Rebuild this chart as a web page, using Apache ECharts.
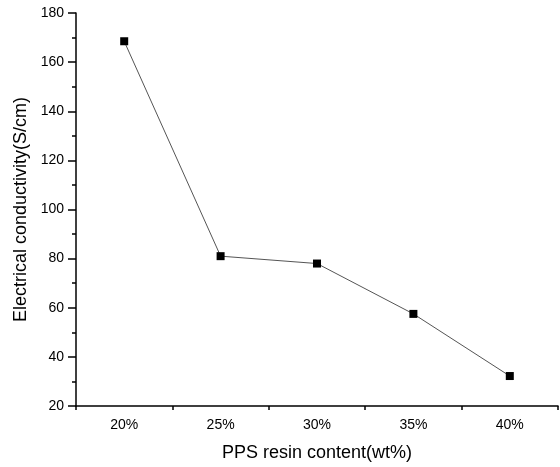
<!DOCTYPE html>
<html>
<head>
<meta charset="utf-8">
<script src="https://cdn.jsdelivr.net/npm/echarts@6/dist/echarts.min.js"></script>
<style>html,body{margin:0;padding:0;background:#fff}#c{width:560px;height:467px}</style>
</head>
<body>
<div id="c"></div>
<script>
var categories = ['20%', '25%', '30%', '35%', '40%'];
var conductivity = [168.5, 81, 78, 57.5, 32.2];
var yTitle = 'Electrical conductivity(S/cm)';
var xTitle = 'PPS resin content(wt%)';

var font = 'Liberation Sans, Arial, sans-serif';
var chart = echarts.init(document.getElementById('c'), null, {renderer: 'canvas'});
chart.setOption({
  animation: false,
  backgroundColor: '#fff',
  grid: {left: 76, right: 2, top: 13, bottom: 61, containLabel: false},
  xAxis: [{
    type: 'category',
    data: categories,
    boundaryGap: true,
    position: 'bottom',
    name: xTitle,
    nameLocation: 'middle',
    nameGap: 38,
    nameTextStyle: {fontFamily: font, fontSize: 18, color: '#000'},
    axisLine: {lineStyle: {color: '#000', width: 1.5}},
    axisTick: {alignWithLabel: true, length: 7, lineStyle: {color: '#000', width: 1.5}},
    axisLabel: {fontFamily: font, fontSize: 14, color: '#000', margin: 12},
    splitLine: {show: false}
  }, {
    type: 'category',
    data: categories,
    boundaryGap: true,
    position: 'bottom',
    axisLine: {show: false},
    axisTick: {show: true, alignWithLabel: false, length: 4, lineStyle: {color: '#000', width: 1.5}},
    axisLabel: {show: false},
    splitLine: {show: false}
  }],
  yAxis: {
    type: 'value',
    min: 20,
    max: 180,
    interval: 20,
    name: yTitle,
    nameLocation: 'middle',
    nameGap: 45,
    nameTextStyle: {fontFamily: font, fontSize: 18, color: '#000'},
    axisLine: {show: true, lineStyle: {color: '#000', width: 1.5}},
    axisTick: {show: true, length: 8, lineStyle: {color: '#000', width: 1.5}},
    minorTick: {show: true, splitNumber: 2, length: 4, lineStyle: {color: '#000', width: 1.5}},
    axisLabel: {fontFamily: font, fontSize: 14, color: '#000', margin: 12},
    splitLine: {show: false}
  },
  series: [{
    type: 'line',
    data: conductivity,
    symbol: 'rect',
    symbolSize: 8,
    lineStyle: {color: '#555', width: 1},
    itemStyle: {color: '#000', borderWidth: 0}
  }]
});
</script>
</body>
</html>
